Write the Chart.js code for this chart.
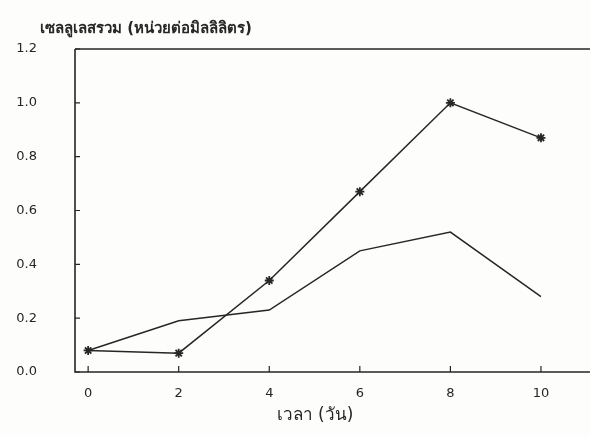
<!DOCTYPE html>
<html>
<head>
<meta charset="utf-8">
<script src="https://cdn.jsdelivr.net/npm/chart.js@4/dist/chart.umd.min.js"></script>
<style>
    body { margin: 0; background: #fdfdfb; }
    #wrap { width: 590px; height: 436px; }
</style>
</head>
<body>
<div id="wrap"><canvas id="chart" width="590" height="436"></canvas></div>
<script>
// เวลา (วัน)
let days = [0, 2, 4, 6, 8, 10];
// เซลลูเลสรวม, two cultures
let seriesStar = [0.08, 0.07, 0.34, 0.67, 1.00, 0.87];
let seriesPlain = [0.08, 0.19, 0.23, 0.45, 0.52, 0.28];
let yTicks = [0, 0.2, 0.4, 0.6, 0.8, 1.0, 1.2];

let yTitle = "เซลลูเลสรวม (หน่วยต่อมิลลิลิตร)";
let ink = "#262626";

function points(values) {
    let out = [];
    for (let i = 0; i < days.length; i++) {
        out.push({ x: days[i], y: values[i] });
    }
    return out;
}

// frame, short inward tick marks and the unit label above the y axis
let frame = {
    id: "frame",
    afterDraw(chart) {
        let ctx = chart.ctx;
        let a = chart.chartArea;
        let xs = chart.scales.x;
        let ys = chart.scales.y;
        ctx.save();
        ctx.strokeStyle = ink;
        ctx.lineWidth = 1.6;
        ctx.beginPath();
        ctx.moveTo(a.left, a.top);
        ctx.lineTo(chart.width, a.top);
        ctx.moveTo(a.left, a.top);
        ctx.lineTo(a.left, a.bottom);
        ctx.lineTo(chart.width, a.bottom);
        ctx.stroke();
        ctx.lineWidth = 1.2;
        ctx.beginPath();
        xs.ticks.forEach(function (t) {
            let px = xs.getPixelForValue(t.value);
            ctx.moveTo(px, a.bottom);
            ctx.lineTo(px, a.bottom - 6);
        });
        ys.ticks.forEach(function (t) {
            let py = ys.getPixelForValue(t.value);
            ctx.moveTo(a.left, py);
            ctx.lineTo(a.left + 5, py);
        });
        ctx.stroke();

        ctx.fillStyle = ink;
        ctx.font = "bold 15px 'DejaVu Sans'";
        ctx.textAlign = "left";
        ctx.textBaseline = "middle";
        ctx.fillText(yTitle, 40, a.top - 20);
        ctx.restore();
    }
};

new Chart(document.getElementById("chart"), {
    type: "line",
    data: {
        datasets: [{
            label: "star",
            data: points(seriesStar),
            borderColor: ink,
            borderWidth: 1.5,
            pointStyle: "star",
            pointRadius: 4.5,
            pointBorderColor: ink,
            pointBorderWidth: 1.8,
            tension: 0
        }, {
            label: "plain",
            data: points(seriesPlain),
            borderColor: ink,
            borderWidth: 1.5,
            pointRadius: 0,
            tension: 0
        }]
    },
    options: {
        responsive: false,
        animation: false,
        layout: { padding: { left: 15, right: 35, top: 49, bottom: 10 } },
        plugins: {
            legend: { display: false },
            tooltip: { enabled: false },
            title: { display: false }
        },
        scales: {
            x: {
                type: "linear",
                min: -0.29,
                max: 10.31,
                afterBuildTicks: function (scale) {
                    scale.ticks = days.map(function (d) { return { value: d }; });
                },
                grid: { display: false, drawTicks: false },
                border: { display: false },
                ticks: {
                    color: ink,
                    padding: 14,
                    font: { family: "DejaVu Sans", size: 13 }
                },
                title: {
                    display: true,
                    text: "เวลา (วัน)",
                    color: ink,
                    font: { family: "DejaVu Sans", size: 17 },
                    padding: { top: -10, bottom: 0 }
                }
            },
            y: {
                min: 0,
                max: 1.2,
                afterBuildTicks: function (scale) {
                    scale.ticks = yTicks.map(function (v) { return { value: v }; });
                },
                afterFit: function (scale) {
                    scale.width = 60;
                },
                grid: { display: false, drawTicks: false },
                border: { display: false },
                ticks: {
                    color: ink,
                    padding: 38,
                    font: { family: "DejaVu Sans", size: 13 },
                    callback: function (v) { return v.toFixed(1); }
                }
            }
        }
    },
    plugins: [frame]
});
</script>
</body>
</html>
